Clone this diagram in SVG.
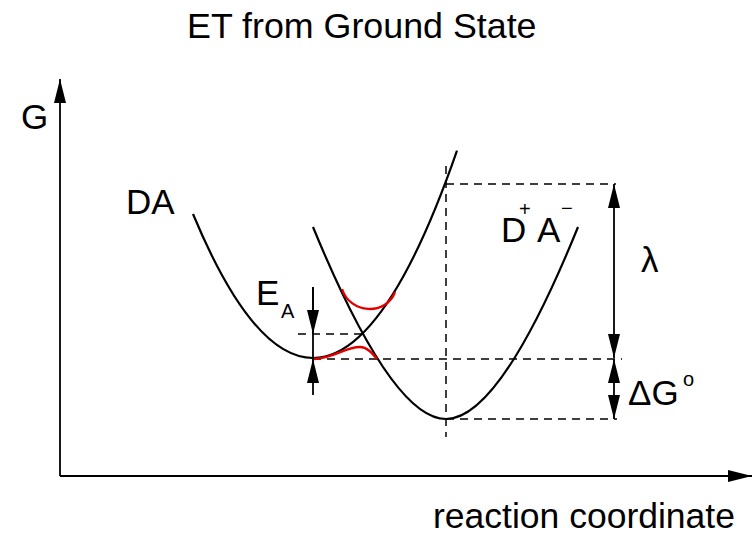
<svg xmlns="http://www.w3.org/2000/svg" width="753" height="536" viewBox="0 0 753 536">
  <defs>
    <marker id="ah" markerUnits="userSpaceOnUse" markerWidth="24" markerHeight="12" viewBox="0 0 24 12" refX="24" refY="6" orient="auto-start-reverse">
      <path d="M0,0 L24,6 L0,12 z" fill="#000"/>
    </marker>
    <style>
      text { font-family: "Liberation Sans", Arial, Helvetica, sans-serif; fill: #000; }
      .big { font-size: 35px; }
      .sub { font-size: 20px; }
      .curve { fill: none; stroke: #000; stroke-width: 2.2; }
      .red { fill: none; stroke: #e00000; stroke-width: 2.4; }
      .dash { fill: none; stroke: #000; stroke-width: 1.5; stroke-dasharray: 8 6; }
      .arrow { fill: none; stroke: #000; stroke-width: 1.8; }
    </style>
  </defs>
  <rect width="753" height="536" fill="#fff"/>

  <text x="187" y="38" style="font-size:35.8px">ET from Ground State</text>

  <g id="axes">
    <line class="arrow" x1="60" y1="476" x2="60" y2="79" marker-end="url(#ah)"/>
    <line class="arrow" x1="60" y1="476" x2="752" y2="476" marker-end="url(#ah)"/>
    <text class="big" x="21" y="129">G</text>
    <text x="433" y="528" style="font-size:35.5px">reaction coordinate</text>
  </g>

  <g id="connectors">
    <line class="dash" x1="446" y1="184" x2="616" y2="184"/>
    <line class="dash" x1="446" y1="166" x2="446" y2="437"/>
    <line class="dash" x1="313" y1="359" x2="622" y2="359"/>
    <line class="dash" x1="446" y1="419" x2="617" y2="419"/>
    <line class="dash" x1="298" y1="334" x2="364" y2="334"/>
    <line class="arrow" x1="614" y1="184" x2="614" y2="358" marker-start="url(#ah)" marker-end="url(#ah)"/>
    <line class="arrow" x1="614" y1="359" x2="614" y2="419" marker-start="url(#ah)" marker-end="url(#ah)"/>
    <line class="arrow" x1="313" y1="287" x2="313" y2="359"/>
    <line class="arrow" x1="313" y1="287" x2="313" y2="334" marker-end="url(#ah)"/>
    <line class="arrow" x1="313" y1="395" x2="313" y2="359" marker-end="url(#ah)"/>
  </g>

  <g id="DA">
    <path class="curve" d="M193,214 Q325,530.8 457,150.6"/>
    <text class="big" x="126" y="214">DA</text>
  </g>

  <g id="DpAm">
    <path class="curve" d="M313,227 Q392,419 446,419 Q500,419 578,227"/>
    <text class="big" x="501" y="242">D<tspan class="sub" x="519" y="216">+</tspan><tspan x="537" y="242">A</tspan><tspan class="sub" x="561" y="215">−</tspan></text>
  </g>

  <g id="avoided-crossing">
    <path class="red" d="M342,289 C350,314 386,316 395,292"/>
    <path class="red" d="M314,359 C335,358 345,347 360,347 C367,347 372,353 377,359"/>
  </g>

  <g id="EA">
    <text class="big" x="256" y="305">E<tspan class="sub" x="281" y="318">A</tspan></text>
  </g>

  <g id="lambda">
    <text class="big" x="641" y="272">λ</text>
  </g>

  <g id="dG">
    <text class="big" x="628" y="405">ΔG<tspan class="sub" x="683" y="386">o</tspan></text>
  </g>
</svg>
